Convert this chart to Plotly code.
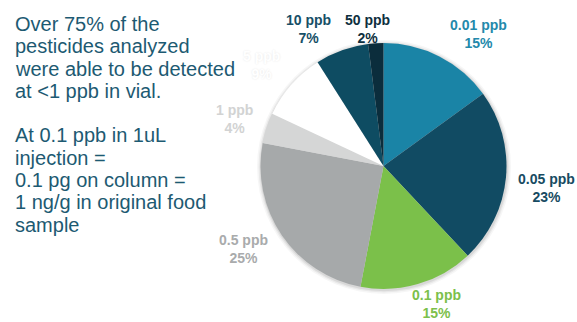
import math
import plotly.graph_objects as go

# Detection limits of the pesticide panel (share of compounds, %)
levels = ["0.01 ppb", "0.05 ppb", "0.1 ppb", "0.5 ppb", "1 ppb", "5 ppb", "10 ppb", "50 ppb"]
shares = [15, 23, 15, 25, 4, 9, 7, 2]

slice_colors = ["#1a84a6", "#114b63", "#7bc04a", "#a6a9aa", "#d5d6d6", "#ffffff", "#0e4c62", "#0b2d3c"]
label_colors = ["#2389ab", "#174b62", "#7cc04b", "#a9abac", "#d2d3d3", "#ffffff", "#174f67", "#0e2f3e"]

notes = [
    "Over 75% of the",
    "pesticides analyzed",
    "were able to be detected",
    "at <1 ppb in vial.",
    "",
    "At 0.1 ppb in 1uL",
    "injection =",
    "0.1 pg on column =",
    "1 ng/g in original food",
    "sample",
]

W, H = 577, 322
CX, CY, R = 383.5, 166.0, 123.0  # pie centre / radius in px (top-down)

# label placement: angle shift (deg) from slice mid-angle and radial distance (px)
label_place = [(8.7, 162), (2.3, 164), (-4.7, 148), (3.5, 163), (-0.4, 156),
               (-1.7, 158), (-9.1, 156), (-3.1, 138)]

fig = go.Figure()

# soft drop shadow under the pie
for grow, alpha in [(4, 0.035), (2.5, 0.05), (1.2, 0.07)]:
    fig.add_trace(go.Pie(
        values=[1], marker=dict(colors=[f"rgba(0,0,0,{alpha})"], line=dict(width=0)),
        textinfo="none", hoverinfo="skip", showlegend=False, sort=False,
        domain=dict(x=[(CX - R - grow + 0.5) / W, (CX + R + grow + 0.5) / W],
                    y=[(H - CY - R - grow - 1) / H, (H - CY + R + grow - 1) / H]),
    ))

fig.add_trace(go.Pie(
    labels=levels, values=shares, sort=False, direction="clockwise", rotation=0,
    marker=dict(colors=slice_colors, line=dict(width=0)),
    textinfo="none", hoverinfo="label+percent", showlegend=False,
    domain=dict(x=[(CX - R) / W, (CX + R) / W], y=[(H - CY - R) / H, (H - CY + R) / H]),
))

annotations = []
total = sum(shares)
cum = 0
for lvl, val, col, (dth, rad) in zip(levels, shares, label_colors, label_place):
    mid = (cum + val / 2) / total * 360
    cum += val
    th = math.radians(mid + dth)
    px = CX + rad * math.sin(th)
    py = CY - rad * math.cos(th)
    font = dict(family="Liberation Sans, Arial, sans-serif", size=14, color=col, weight=700)
    if col == "#ffffff":
        font["shadow"] = "0px 0px 2px rgba(0,0,0,0.10)"
    annotations.append(dict(
        text=f"{lvl}<br>{round(val / total * 100)}%", x=px / W, y=1 - py / H,
        xref="paper", yref="paper", xanchor="center", yanchor="middle",
        showarrow=False, font=font, align="center",
    ))

for i, line in enumerate(notes):
    if not line:
        continue
    annotations.append(dict(
        text=line, x=13 / W, y=1 - (24 + i * 22.3) / H, xref="paper", yref="paper",
        xanchor="left", yanchor="middle", showarrow=False, align="left",
        font=dict(family="Liberation Sans, Arial, sans-serif", size=20, color="#1d5a72"),
    ))

fig.update_layout(
    width=W, height=H, margin=dict(l=0, r=0, t=0, b=0),
    paper_bgcolor="white", plot_bgcolor="white",
    annotations=annotations, showlegend=False,
)

fig.write_html("out.html")
